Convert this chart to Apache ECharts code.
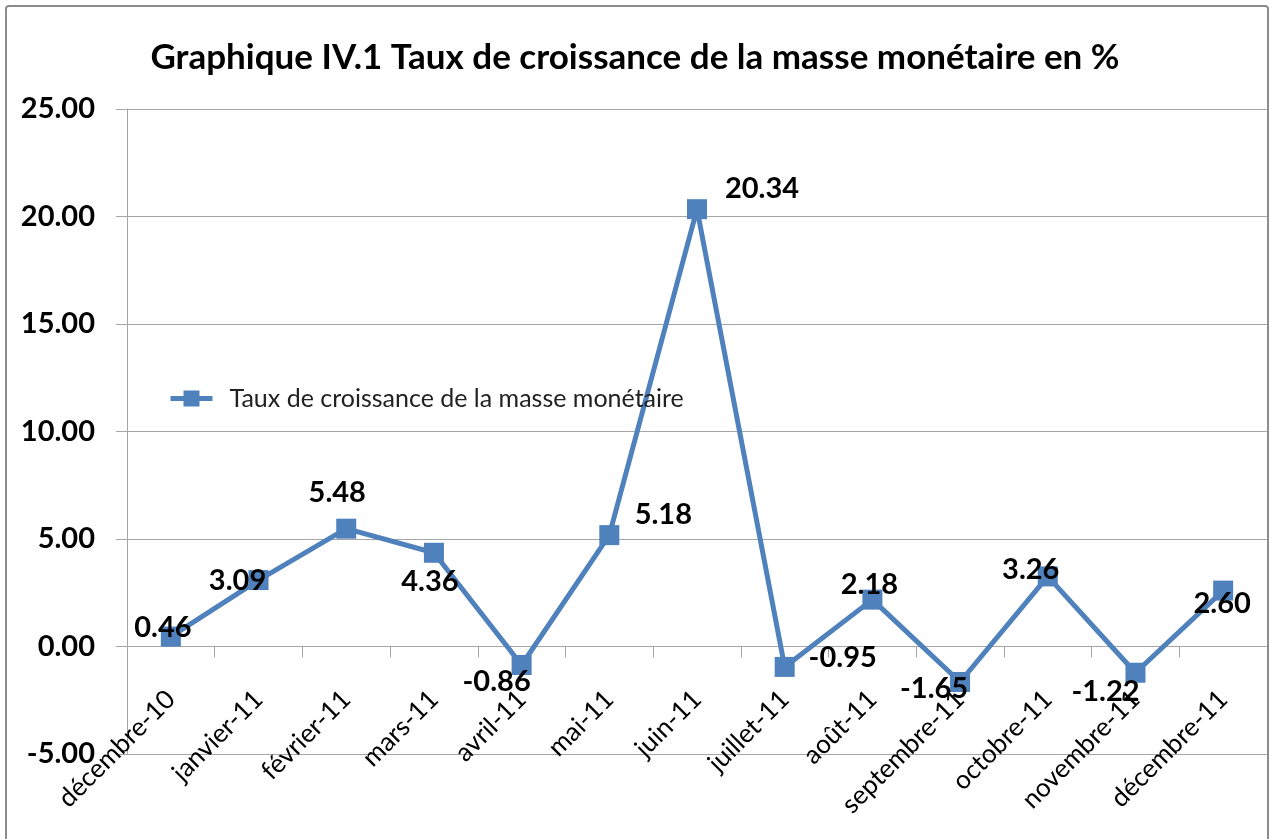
<!DOCTYPE html>
<html>
<head>
<meta charset="utf-8">
<script src="https://cdn.jsdelivr.net/npm/echarts@6/dist/echarts.min.js"></script>
<style>
  html, body { margin: 0; padding: 0; background: #fff; }
  #chart { width: 1270px; height: 839px; }
</style>
</head>
<body>
<div id="chart"></div>
<script>
// mois (catégories)
var categories = ["décembre-10", "janvier-11", "février-11", "mars-11", "avril-11", "mai-11",
  "juin-11", "juillet-11", "août-11", "septembre-11", "octobre-11", "novembre-11", "décembre-11"];
// taux de croissance de la masse monétaire, en %
var tauxCroissance = [0.46, 3.09, 5.48, 4.36, -0.86, 5.18, 20.34, -0.95, 2.18, -1.65, 3.26, -1.22, 2.60];
var seriesName = "Taux de croissance de la masse monétaire";
var titleText = "Graphique IV.1 Taux de croissance de la masse monétaire en %";

// décalage des étiquettes (placées à la main comme dans Excel)
var labelOffsets = [[-8, -9], [-21, 1], [-9, -36], [-4, 29], [-25, 17], [54, -20],
  [65, -21], [58, -9], [-3, -15], [-26, 7], [-17, -7], [-30, 19], [-1, 13]];

var font = "Lato, 'Noto Sans', sans-serif";
var blue = "#4f81bd";
var grey = "#a6a6a6";

var chart = echarts.init(document.getElementById("chart"));
chart.setOption({
  animation: false,
  textStyle: { fontFamily: font },
  title: {
    text: titleText,
    left: "center",
    top: 35,
    textStyle: { fontSize: 35, fontWeight: "bold", color: "#000", fontFamily: font }
  },
  legend: {
    left: 163,
    top: 381,
    itemWidth: 42,
    itemHeight: 20,
    itemGap: 4,
    data: [seriesName],
    lineStyle: { width: 5 },
    textStyle: { fontSize: 25, color: "#222", fontFamily: font, padding: [0, 0, 0, 12] }
  },
  grid: { left: 127, right: 3, top: 109, bottom: 85, outerBoundsMode: "none" },
  xAxis: {
    type: "category",
    data: categories,
    boundaryGap: true,
    axisLine: { onZero: true, lineStyle: { color: grey, width: 1 } },
    axisTick: { show: true, length: 11, lineStyle: { color: grey } },
    axisLabel: { rotate: 45, margin: -59, fontSize: 26, color: "#000", interval: 0, fontFamily: font }
  },
  yAxis: {
    type: "value",
    min: -5,
    max: 25,
    interval: 5,
    axisLine: { show: true, lineStyle: { color: grey } },
    axisTick: { show: true, length: 11, lineStyle: { color: grey } },
    axisLabel: {
      margin: 32,
      fontSize: 29,
      fontWeight: "bold",
      color: "#000",
      fontFamily: font,
      formatter: function (v) { return v.toFixed(2); }
    },
    splitLine: { lineStyle: { color: grey, width: 1 } }
  },
  series: [{
    name: seriesName,
    type: "line",
    symbol: "rect",
    symbolSize: 20,
    itemStyle: { color: blue },
    lineStyle: { color: blue, width: 5 },
    label: {
      show: true,
      position: "inside",
      fontSize: 29,
      fontWeight: "bold",
      color: "#000",
      fontFamily: font,
      formatter: function (p) { return p.value.toFixed(2); }
    },
    data: tauxCroissance.map(function (v, i) {
      return { value: v, label: { offset: labelOffsets[i] } };
    })
  }],
  graphic: [{
    type: "rect",
    shape: { x: 6, y: 6, width: 1262, height: 860, r: 3 },
    style: { fill: null, stroke: "#8c8c8c", lineWidth: 2 },
    silent: true,
    z: 100
  }]
});
</script>
</body>
</html>
